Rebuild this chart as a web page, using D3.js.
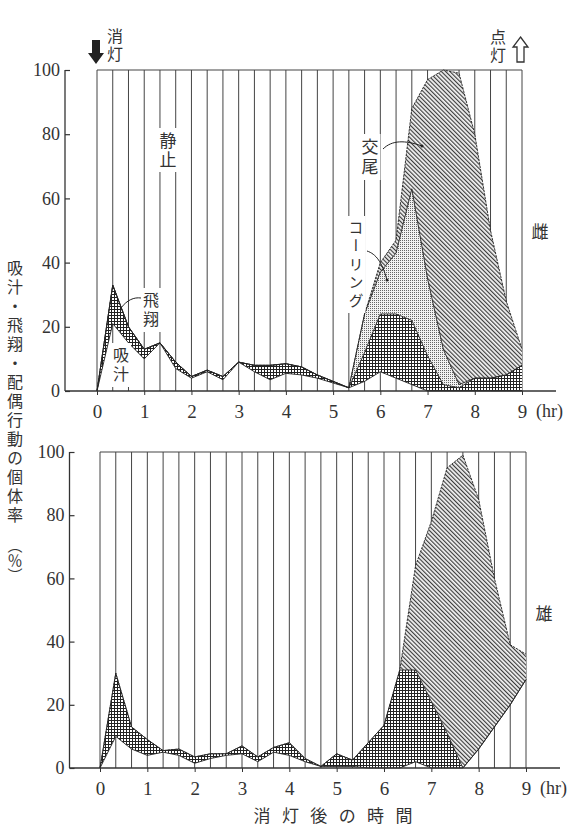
<!DOCTYPE html>
<html>
<head>
<meta charset="utf-8">
<script src="https://cdn.jsdelivr.net/npm/d3@7"></script>
<style>
body { margin: 0; background: #fff; }
svg text { fill: #333; }
.num { font-family: "Liberation Serif", "DejaVu Serif", serif; }
.jp { font-family: "Noto Sans CJK JP", sans-serif; }
.vert { writing-mode: vertical-rl; }
</style>
</head>
<body>
<svg id="chart" width="571" height="826"></svg>
<script>
// time after lights off, minutes (one record every 20 min)
const minutes = [0, 20, 40, 60, 80, 100, 120, 140, 160, 180, 200, 220, 240, 260,
                 280, 300, 320, 340, 360, 380, 400, 420, 440, 460, 480, 500, 520, 540];
const hourTicks = [0, 1, 2, 3, 4, 5, 6, 7, 8, 9];
const pctTicks = [0, 20, 40, 60, 80, 100];

// female (雌) - % of individuals
const femaleFeeding = [0, 21, 15, 10, 15, 7, 4, 6, 3.5, 9, 6, 3.5, 5.5, 5, 4, 2.5, 1, 3, 6, 4, 2, 0, 0, 0, 0, 0, 0, 0];
const femaleFlight  = [0, 12, 5, 3, 0, 2, 0.5, 0.5, 1, 0, 2, 4.5, 3, 2.5, 1, 0.5, 0, 9, 18, 20, 20, 11, 2, 1, 4, 4, 5, 8];
const femaleCalling = [0, 0, 0, 0, 0, 0, 0, 0, 0, 0, 0, 0, 0, 0, 0, 0, 0, 12, 13, 19, 41, 24, 11, 1, 0, 0, 0, 0];
const femaleMating  = [0, 0, 0, 0, 0, 0, 0, 0, 0, 0, 0, 0, 0, 0, 0, 0, 0, 0, 3, 4, 25, 62, 87, 97, 76, 46, 23, 5];

// male (雄)
const maleFeeding = [0, 10, 6, 4, 5, 4, 1.5, 3, 4, 4.5, 2, 5, 4, 2, 0.5, 0.5, 0.5, 0, 0, 0, 2, 0, 0, 0, 6, 13, 20, 28];
const maleFlight  = [0, 20, 7, 5, 0.5, 2, 2, 1.5, 0.5, 2.5, 1.5, 1.5, 4, 1, 0, 4, 2, 8, 13.5, 31, 29, 21, 11, 0, 0, 0, 0, 0];
const maleMating  = [0, 0, 0, 0, 0, 0, 0, 0, 0, 0, 0, 0, 0, 0, 0, 0, 0, 0, 0, 0, 33, 57, 84, 99, 79, 47, 19, 8];

const svg = d3.select('#chart');

// fill patterns
const defs = svg.append('defs');
const cross = defs.append('pattern').attr('id', 'cross').attr('patternUnits', 'userSpaceOnUse')
    .attr('width', 3).attr('height', 3);
cross.append('rect').attr('width', 3).attr('height', 3).attr('fill', '#fff');
cross.append('path').attr('d', 'M0,0.5H3M0.5,0V3').attr('stroke', '#222').attr('stroke-width', 1);

const dots = defs.append('pattern').attr('id', 'dots').attr('patternUnits', 'userSpaceOnUse')
    .attr('width', 2).attr('height', 2);
dots.append('rect').attr('width', 2).attr('height', 2).attr('fill', '#f2f2f2');
dots.append('rect').attr('width', 1).attr('height', 1).attr('fill', '#666');

const diag = defs.append('pattern').attr('id', 'diag').attr('patternUnits', 'userSpaceOnUse')
    .attr('width', 3).attr('height', 3).attr('patternTransform', 'rotate(-45)');
diag.append('rect').attr('width', 3).attr('height', 3).attr('fill', '#f4f4f4');
diag.append('path').attr('d', 'M0.6,0V3').attr('stroke', '#333').attr('stroke-width', 1.1);

const fills = { feeding: 'none', flight: 'url(#cross)', calling: 'url(#dots)', mating: 'url(#diag)' };

function drawPanel(cfg, series) {
    const g = svg.append('g');
    const x = d3.scaleLinear().domain([0, 9]).range([cfg.x0, cfg.x9]);
    const y = d3.scaleLinear().domain([0, 100]).range([cfg.yBase, cfg.yTop]);

    const keys = Object.keys(series);
    const rows = minutes.map((m, i) => {
        const r = { t: m / 60 };
        keys.forEach(k => { r[k] = series[k][i]; });
        return r;
    });
    const stacked = d3.stack().keys(keys)(rows);

    // 20-minute vertical lines (静止 background)
    g.append('g').selectAll('line').data(minutes).enter().append('line')
        .attr('x1', d => x(d / 60)).attr('x2', d => x(d / 60))
        .attr('y1', y(0)).attr('y2', y(100))
        .attr('stroke', '#444').attr('stroke-width', 1);
    g.append('line').attr('x1', x(0)).attr('x2', x(9)).attr('y1', y(100)).attr('y2', y(100))
        .attr('stroke', '#444').attr('stroke-width', 1.2);

    const area = d3.area().x(d => x(d.data.t)).y0(d => y(d[0])).y1(d => y(d[1]));
    const top = d3.line().x(d => x(d.data.t)).y(d => y(d[1]));

    g.append('g').selectAll('path').data(stacked.filter(s => s.key !== 'feeding')).enter()
        .append('path').attr('d', area).attr('fill', s => fills[s.key]);

    g.append('g').selectAll('path').data(stacked).enter().append('path')
        .attr('d', top).attr('fill', 'none')
        .attr('stroke', '#222').attr('stroke-width', 0.9)
        .attr('stroke-dasharray', s => s.key === 'mating' ? '2.5,1' : null);

    // axes
    const yAxis = d3.axisLeft(y).tickValues(pctTicks).tickSize(-5).tickPadding(5);
    const ya = g.append('g').attr('transform', `translate(${cfg.axisX},0)`).call(yAxis);
    ya.select('.domain').remove();
    ya.append('line').attr('y1', y(0)).attr('y2', y(100)).attr('stroke', '#333').attr('stroke-width', 1.3);
    ya.selectAll('.tick line').attr('stroke', '#333').attr('stroke-width', 1.2);
    ya.selectAll('text').attr('class', 'num').attr('font-size', 18).attr('fill', '#333');

    g.append('line').attr('x1', cfg.axisX).attr('x2', cfg.baseEnd).attr('y1', y(0)).attr('y2', y(0))
        .attr('stroke', '#333').attr('stroke-width', 1.3);
    const xAxis = d3.axisBottom(x).tickValues(hourTicks).tickSize(4).tickPadding(10).tickFormat(d3.format('d'));
    const xa = g.append('g').attr('transform', `translate(0,${y(0)})`).call(xAxis);
    xa.select('.domain').remove();
    xa.selectAll('.tick line').attr('stroke', '#333');
    xa.selectAll('text').attr('class', 'num').attr('font-size', 19).attr('fill', '#333');
    g.append('text').attr('class', 'num').attr('font-size', 18)
        .attr('x', x(9) + 14).attr('y', cfg.hrY).text('(hr)');

    return { g, x, y };
}

const female = drawPanel({ x0: 97, x9: 522, yBase: 391, yTop: 70, axisX: 65, baseEnd: 556, hrY: 417 },
    { feeding: femaleFeeding, flight: femaleFlight, calling: femaleCalling, mating: femaleMating });
const male = drawPanel({ x0: 100, x9: 526, yBase: 768, yTop: 452, axisX: 69.5, baseEnd: 560, hrY: 794 },
    { feeding: maleFeeding, flight: maleFlight, mating: maleMating });

// vertical (tategaki) text; x is the column centre, yTop the top of the first glyph
function vtext(str, x, yTop, size, spacing, blank) {
    if (blank) {
        const h = str.length * (size + spacing);
        svg.append('rect').attr('x', x - size / 2 - 2).attr('y', yTop - 4)
            .attr('width', size + 4).attr('height', h + 6).attr('fill', '#fff');
    }
    return svg.append('text').attr('class', 'jp vert').attr('font-size', size)
        .attr('x', x).attr('y', yTop)
        .style('letter-spacing', spacing + 'px').text(str);
}

// labels inside the plot (white behind them breaks the grid lines)
vtext('静止', 168, 132, 17, 2, true);
vtext('交尾', 370, 138, 17, 3, true);
vtext('コーリング', 356, 220, 15, 3.2, true);
vtext('飛翔', 151, 292, 16, 3, true);
vtext('吸汁', 121, 347, 16, 3, true);

// leader curves
const leaders = [
    { d: 'M383,149 C392,140 405,140 422,146', dot: [422, 146] },
    { d: 'M367,251 C376,254 382,262 387,280', dot: [387, 280] },
    { d: 'M141,298 C134,297 127,300 121,308', dot: null }
];
leaders.forEach(l => {
    svg.append('path').attr('d', l.d).attr('fill', 'none').attr('stroke', '#222').attr('stroke-width', 1);
    if (l.dot) svg.append('circle').attr('cx', l.dot[0]).attr('cy', l.dot[1]).attr('r', 1.5).attr('fill', '#222');
});

// sex labels
svg.append('text').attr('class', 'jp').attr('font-size', 17).attr('x', 540).attr('y', 230)
    .attr('text-anchor', 'middle').attr('dominant-baseline', 'central').text('雌');
svg.append('text').attr('class', 'jp').attr('font-size', 17).attr('x', 544).attr('y', 612)
    .attr('text-anchor', 'middle').attr('dominant-baseline', 'central').text('雄');

// lights off / lights on markers
vtext('消灯', 115, 28, 16, 2, false);
vtext('点灯', 498, 29, 16, 2, false);
svg.append('path').attr('d', 'M92,40H100V53H104L96,64L88,53H92Z').attr('fill', '#222');
svg.append('path').attr('d', 'M520.5,37L528,47H524V62H517V47H513Z')
    .attr('fill', '#fff').attr('stroke', '#333').attr('stroke-width', 1.3);

// y axis title
vtext('吸汁・飛翔・配偶行動の個体率', 15, 260, 16, 3, false);
vtext('（％）', 15, 538, 15, 0, false).style('text-orientation', 'upright');

// x axis title
svg.append('text').attr('class', 'jp').attr('font-size', 17).attr('x', 253.5).attr('y', 814)
    .attr('dominant-baseline', 'central').style('letter-spacing', '11.4px').text('消灯後の時間');
</script>
</body>
</html>
